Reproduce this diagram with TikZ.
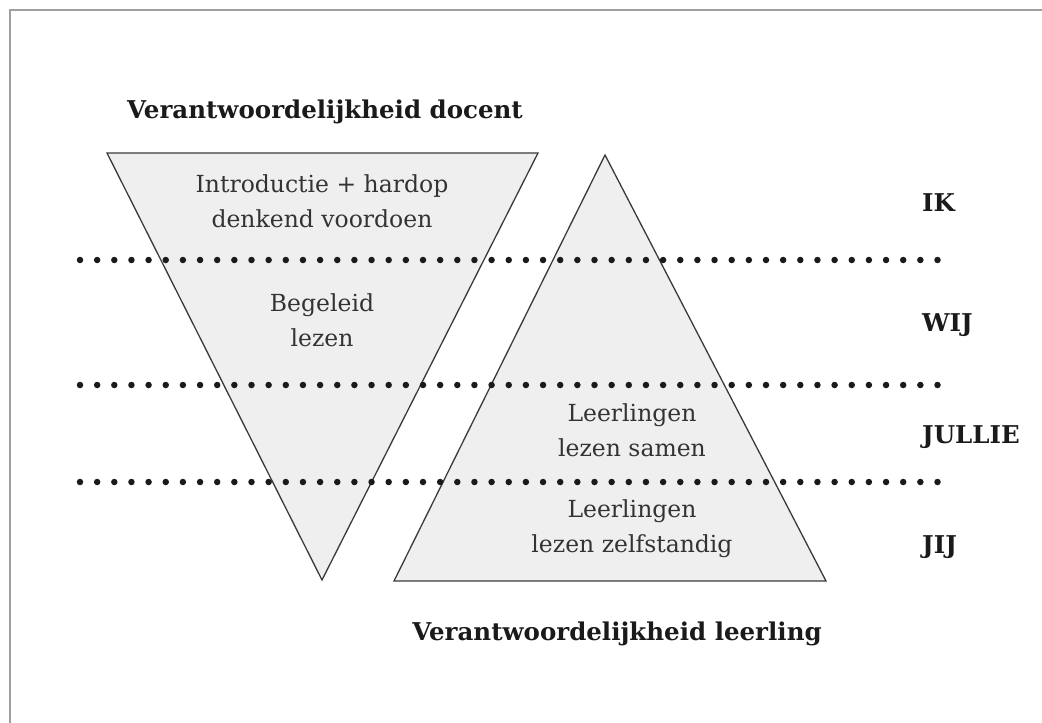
\documentclass[tikz,border=0pt]{standalone}
\usepackage{fontspec}
\newfontfamily\bodyfont{DejaVu Serif}
\usepackage{tikz}
\definecolor{cFill}{HTML}{EFEFEF}
\definecolor{cEdge}{HTML}{3A3A3A}
\definecolor{cFrame}{HTML}{A0A0A0}
\definecolor{cInk}{HTML}{1A1A1A}
\definecolor{cText}{HTML}{333333}
\begin{document}
\begin{tikzpicture}[x=1pt, y=-1pt,
  tri/.style={draw=cEdge, fill=cFill, line width=1.3pt, line join=miter},
  dotrow/.style={line width=6.5pt, line cap=round, dash pattern=on 0pt off 17.15pt, cInk},
  body/.style={align=center, font=\fontsize{23.5}{35}\bodyfont\selectfont\mdseries, text=cText, inner sep=0pt},
  head/.style={font=\fontsize{24.5}{28}\bodyfont\selectfont\bfseries, text=cInk, inner sep=0pt},
  level/.style={head, anchor=west}]
  \useasboundingbox (0,0) rectangle (1042,723);
  % frame (cut off right and bottom)
  \draw[cFrame, line width=2pt] (10,723) -- (10,10) -- (1042,10);
  % triangles
  \draw[tri] (107,153) -- (538,153) -- (322,580) -- cycle;
  \draw[tri] (605,155) -- (826,581) -- (394,581) -- cycle;
  % dotted rows
  \foreach \y in {260,385,482}
    \draw[dotrow] (80,\y) -- (940,\y);
  % headings
  \node[head] (docent) at (325,112) {Verantwoordelijkheid docent};
  \node[head] (leerling) at (617,634) {Verantwoordelijkheid leerling};
  % levels
  \node[level] (ik) at (922,203) {IK};
  \node[level] (wij) at (922,325) {WIJ};
  \node[level] (jullie) at (922,437) {JULLIE};
  \node[level] (jij) at (922,547) {JIJ};
  % texts in the triangles
  \node[body] (intro) at (322,201) {Introductie + hardop\\denkend voordoen};
  \node[body] (begeleid) at (322,320) {Begeleid\\lezen};
  \node[body] (samen) at (632,430) {Leerlingen\\lezen samen};
  \node[body] (zelf) at (632,529) {Leerlingen\\lezen zelfstandig};
\end{tikzpicture}
\end{document}
